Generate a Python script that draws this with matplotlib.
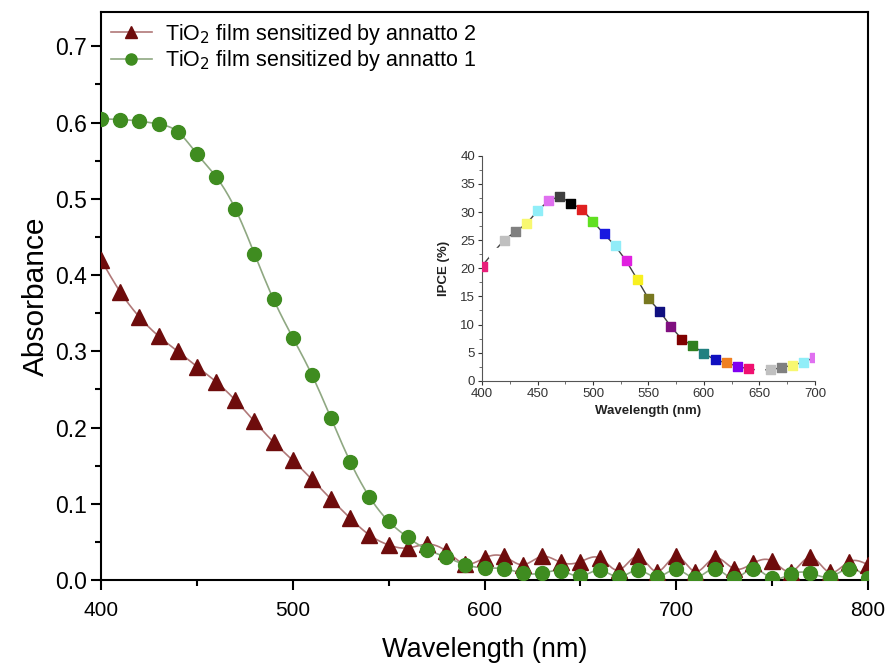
import numpy as np
import matplotlib.pyplot as plt
from matplotlib import font_manager
from matplotlib.ticker import MultipleLocator

# absorbance spectra, one point every 10 nm
wl = np.arange(400, 801, 10)
annatto2 = [0.42, 0.378, 0.345, 0.32, 0.30, 0.28, 0.26, 0.236, 0.208, 0.181,
            0.157, 0.132, 0.106, 0.081, 0.059, 0.046, 0.042, 0.047, 0.038, 0.021,
            0.029, 0.031, 0.02, 0.031, 0.023, 0.024, 0.029, 0.013, 0.031, 0.011,
            0.031, 0.011, 0.029, 0.015, 0.022, 0.025, 0.011, 0.03, 0.01, 0.024,
            0.02]
annatto1 = [0.605, 0.604, 0.602, 0.598, 0.588, 0.559, 0.529, 0.487, 0.428, 0.368,
            0.318, 0.269, 0.212, 0.155, 0.109, 0.077, 0.056, 0.04, 0.03, 0.02,
            0.016, 0.015, 0.009, 0.009, 0.012, 0.005, 0.013, 0.004, 0.013, 0.004,
            0.014, 0.003, 0.015, 0.002, 0.015, 0.002, 0.008, 0.009, 0.004, 0.015,
            0.003]

# inset: IPCE
ipce_wl = np.arange(400, 701, 10)
ipce = [20.4, 22.8, 25.0, 26.5, 27.9, 30.2, 32.0, 32.8, 31.6, 30.5,
        28.3, 26.1, 24.0, 21.3, 18.0, 14.6, 12.4, 9.7, 7.4, 6.2,
        4.9, 3.7, 3.2, 2.6, 2.1, 1.9, 2.0, 2.3, 2.8, 3.3, 4.2]
ipce_colors = ['#e8207a', '#ffffff', '#c0c0c0', '#808080', '#f8f870', '#90eef8',
               '#e070f0', '#404040', '#000000', '#e02020', '#60e020', '#1818e0',
               '#90ecf8', '#e020e0', '#f8f020', '#787820', '#101080', '#801080',
               '#800000', '#308020', '#208080', '#1010c0', '#f08020', '#8000f0',
               '#f01070', '#ffffff', '#c0c0c0', '#808080', '#f8f870', '#90eef8',
               '#e070f0']


def spline(x, y, n=20):
    # natural cubic spline through the points
    x = np.asarray(x, float)
    y = np.asarray(y, float)
    k = len(x)
    h = np.diff(x)
    A = np.zeros((k, k))
    r = np.zeros(k)
    A[0, 0] = A[-1, -1] = 1
    for i in range(1, k - 1):
        A[i, i - 1] = h[i - 1]
        A[i, i] = 2 * (h[i - 1] + h[i])
        A[i, i + 1] = h[i]
        r[i] = 6 * ((y[i + 1] - y[i]) / h[i] - (y[i] - y[i - 1]) / h[i - 1])
    m = np.linalg.solve(A, r)
    xs, ys = [], []
    for i in range(k - 1):
        t = np.linspace(x[i], x[i + 1], n, endpoint=False)
        a = x[i + 1] - t
        b = t - x[i]
        v = (m[i] * a ** 3 + m[i + 1] * b ** 3) / (6 * h[i]) \
            + (y[i] / h[i] - m[i] * h[i] / 6) * a \
            + (y[i + 1] / h[i] - m[i + 1] * h[i] / 6) * b
        xs.extend(t)
        ys.extend(v)
    xs.append(x[-1])
    ys.append(y[-1])
    return np.array(xs), np.array(ys)


plt.rcParams['font.family'] = ['Liberation Sans', 'DejaVu Sans']
names = {f.name for f in font_manager.fontManager.ttflist}
if 'Liberation Sans Narrow' in names:
    narrow, xtick_fs, xlab_fs = 'Liberation Sans Narrow', 18, 23
else:
    narrow, xtick_fs, xlab_fs = 'Liberation Sans', 15, 19.5

fig = plt.figure(figsize=(8.9, 6.68), dpi=100)
ax = fig.add_axes([0.1135, 0.1317, 0.8618, 0.8503])

sx, sy = spline(wl, annatto2)
ax.plot(sx, sy, color='#b07878', lw=1.2, zorder=2)
sx, sy = spline(wl, annatto1)
ax.plot(sx, sy, color='#8fa882', lw=1.2, zorder=2)
ax.plot(wl, annatto2, ls='none', marker='^', ms=11.5, color='#6e0c0c', zorder=3)
ax.plot(wl, annatto1, ls='none', marker='o', ms=10, color='#3f8c20', zorder=3)

# legend handles
h2, = ax.plot([], [], color='#b07878', lw=1.2, marker='^', ms=9, mfc='#6e0c0c', mec='#6e0c0c')
h1, = ax.plot([], [], color='#8fa882', lw=1.2, marker='o', ms=8, mfc='#3f8c20', mec='#3f8c20')
ax.legend([h2, h1], ['TiO$_2$ film sensitized by annatto 2', 'TiO$_2$ film sensitized by annatto 1'],
          loc='upper left', frameon=False, fontsize=15.5, handlelength=1.9,
          borderaxespad=0.15, labelspacing=0.08, handletextpad=0.6, borderpad=0.3)

ax.set_xlim(400, 800)
ax.set_ylim(0, 0.745)
ax.xaxis.set_major_locator(MultipleLocator(100))
ax.xaxis.set_minor_locator(MultipleLocator(50))
ax.yaxis.set_major_locator(MultipleLocator(0.1))
ax.yaxis.set_minor_locator(MultipleLocator(0.05))
ax.yaxis.set_major_formatter(plt.FormatStrFormatter('%.1f'))
ax.tick_params(which='major', direction='out', length=7, width=1.5)
ax.tick_params(which='minor', direction='out', length=4, width=1.5)
ax.tick_params(axis='y', labelsize=16.5, pad=3)
ax.tick_params(axis='x', labelsize=xtick_fs, pad=8)
for lab in ax.get_xticklabels():
    lab.set_family(narrow)
for s in ax.spines.values():
    s.set_linewidth(1.5)
ax.set_xlabel('Wavelength (nm)', fontsize=xlab_fs, family=narrow, labelpad=12)
ax.set_ylabel('Absorbance', fontsize=21.5, labelpad=4)

# inset
ins = fig.add_axes([0.5416, 0.430, 0.374, 0.3368])
ins.plot(ipce_wl, ipce, color='#404040', lw=1.0, zorder=2)
ins.scatter(ipce_wl, ipce, marker='s', s=42, c=ipce_colors, zorder=3)
ins.set_xlim(400, 700)
ins.set_ylim(0, 40)
ins.xaxis.set_major_locator(MultipleLocator(50))
ins.xaxis.set_minor_locator(MultipleLocator(25))
ins.yaxis.set_major_locator(MultipleLocator(5))
ins.yaxis.set_minor_locator(MultipleLocator(2.5))
ins.spines['top'].set_visible(False)
ins.spines['right'].set_visible(False)
for s in ['left', 'bottom']:
    ins.spines[s].set_color('#555555')
ins.tick_params(which='major', direction='out', length=3, labelsize=9.5, colors='#333333', pad=2)
ins.tick_params(which='minor', direction='out', length=2, colors='#555555')
ins.set_xlabel('Wavelength (nm)', fontsize=9.5, fontweight='bold', labelpad=4, color='#222222')
ins.set_ylabel('IPCE (%)', fontsize=9.5, fontweight='bold', labelpad=7, color='#222222')

fig.savefig('out.png', dpi=100)
